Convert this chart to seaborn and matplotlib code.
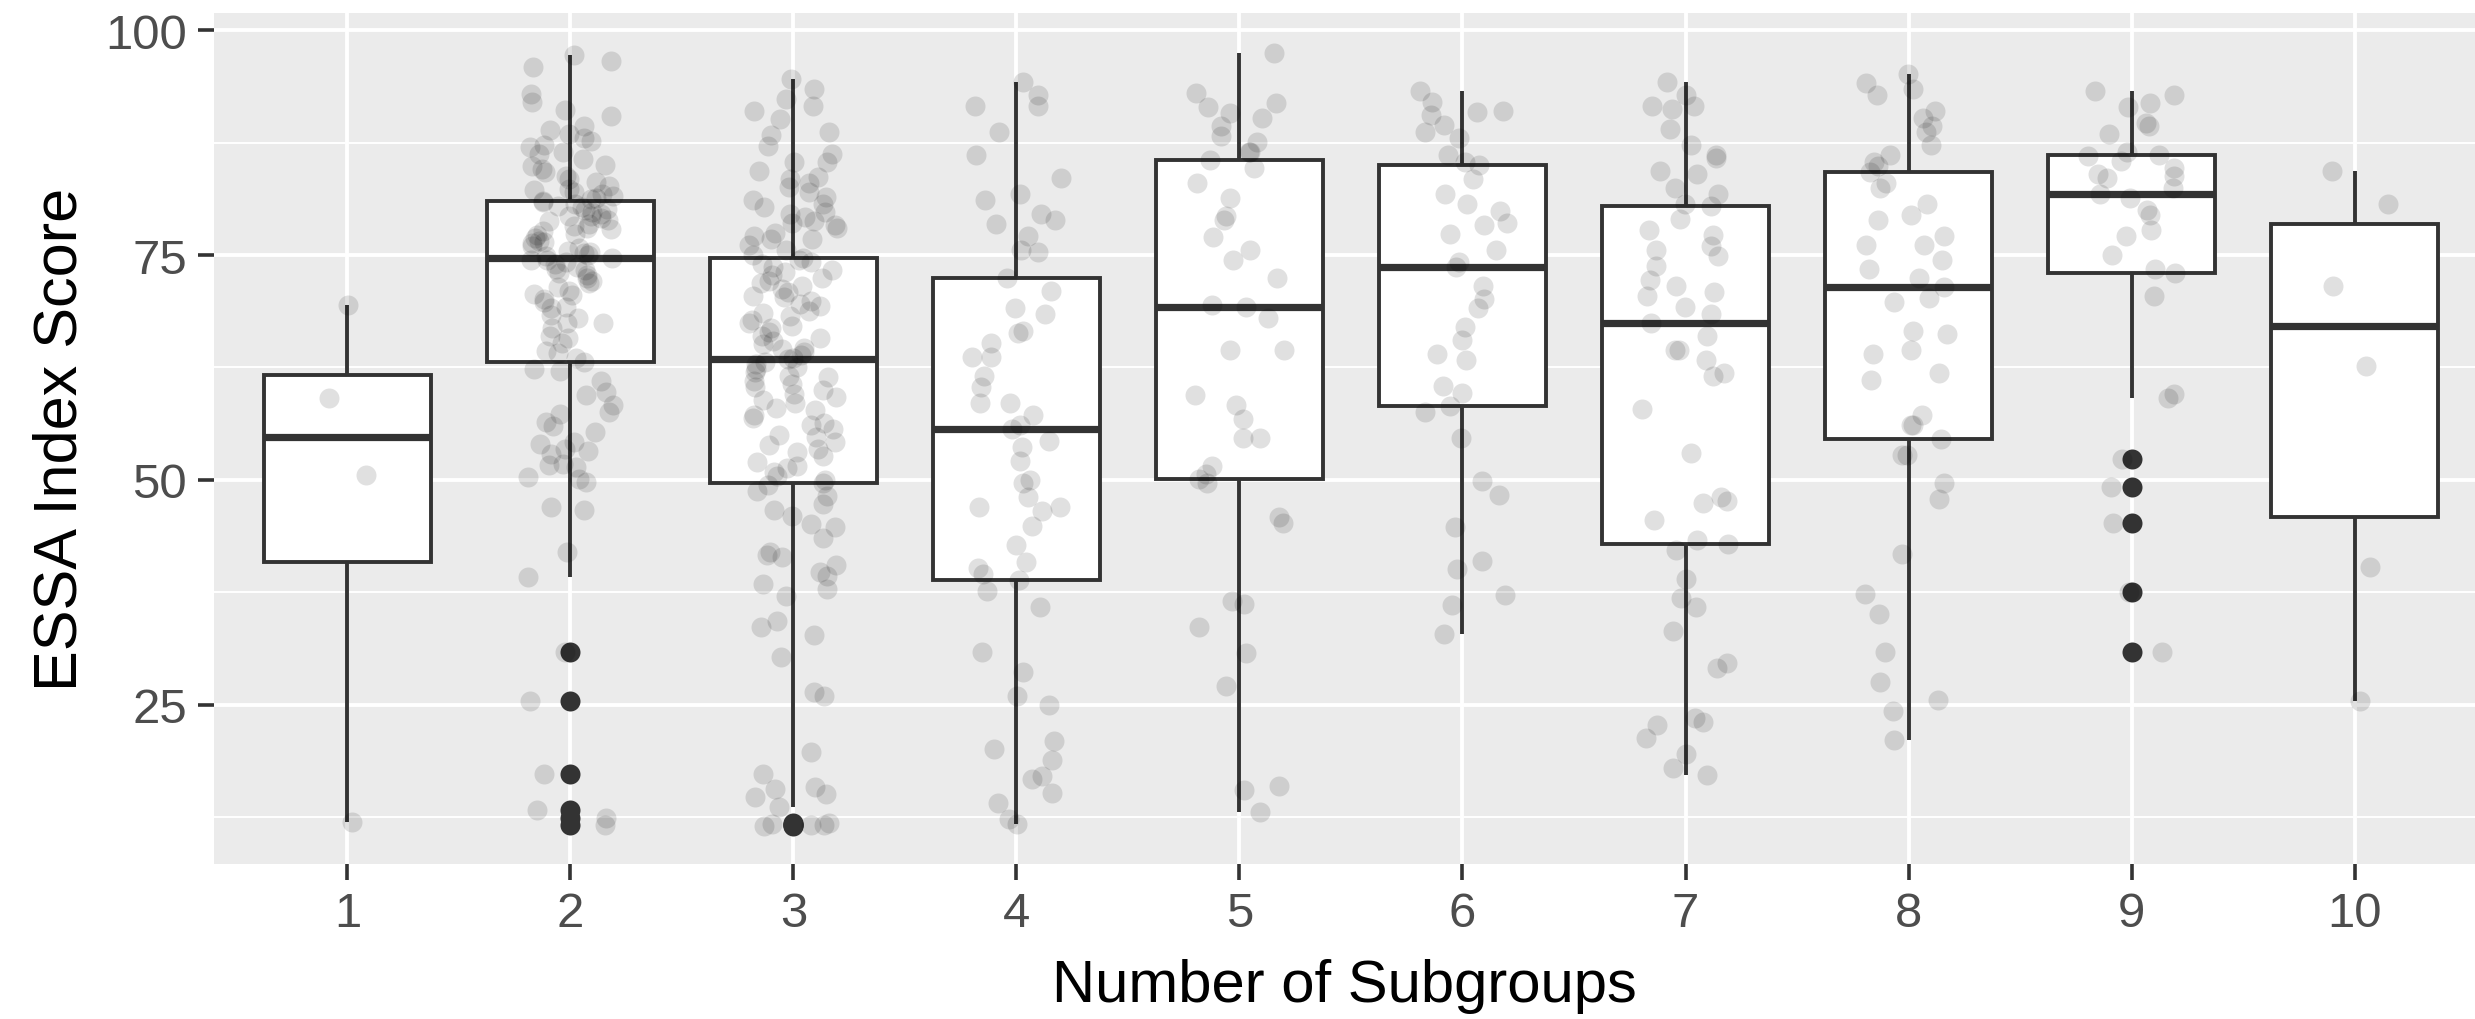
import numpy as np
import pandas as pd
import seaborn as sns
import matplotlib.pyplot as plt
from matplotlib.ticker import MultipleLocator

# Data (ESSA index score per school, grouped by number of subgroups)
subgroups = ['1', '2', '3', '4', '5', '6', '7', '8', '9', '10']

scores_1 = [11.9, 50.5, 59.1, 69.4]

scores_2 = [11.6, 12.4, 13.3, 17.3, 25.4, 30.8,
            39.2,
            42.0, 46.6, 47.0, 49.8, 50.1, 50.3, 51.4, 51.6, 51.8, 52.9, 53.2, 53.4, 54.0,
            54.2, 55.3, 56.0, 56.4, 57.3, 57.6, 58.3, 59.4, 59.8, 61.0, 62.1, 62.3,
            63.1,
            63.5, 64.1, 64.3, 65.2, 65.8, 66.0, 66.9, 67.4, 67.5, 68.0, 68.3, 69.1, 69.2,
            69.8, 70.1, 70.6, 70.7, 71.0, 71.5, 71.9, 72.1, 72.4, 72.8, 73.0, 73.3, 73.5,
            73.7, 74.0, 74.2, 74.4, 74.5,
            74.7,
            74.9, 75.0, 75.2, 75.4, 75.5, 75.8, 76.0, 76.3, 76.5, 76.6, 76.9, 77.2, 77.4,
            77.7, 77.9, 78.0, 78.2, 78.5, 78.8, 78.9, 79.1, 79.3, 79.4, 79.6, 79.8, 80.0,
            80.1, 80.3, 80.5, 80.7, 80.9,
            81.0,
            81.2, 81.4, 81.6, 81.8, 82.0, 82.2, 82.4, 82.7, 83.1, 83.5, 83.8, 84.2, 84.6,
            84.9, 85.0, 85.7, 86.3, 86.5, 87.0, 87.3, 87.7, 88.0, 88.5, 88.9, 89.4, 90.5,
            91.1, 92.0, 92.9, 95.9, 96.6,
            97.3]

scores_3 = [11.6, 11.5, 11.7, 11.6, 11.8,
            13.6,
            14.7, 15.1, 15.6, 15.8, 17.3, 19.7, 26.0, 26.4, 30.3, 32.7, 33.6, 34.3, 37.1,
            37.9, 38.4, 39.3, 39.8, 40.5, 41.4, 41.6, 42.0, 43.5, 44.7, 45.1, 46.0, 46.6,
            47.3, 48.2, 48.8, 49.4,
            49.7,
            50.0, 50.4, 50.9, 51.3, 51.5, 52.0, 52.6, 53.1, 53.4, 53.9, 54.2, 54.8, 55.0,
            55.6, 56.1, 56.3, 56.9, 57.2, 57.8, 58.0, 58.5, 58.9, 59.2, 59.6, 60.0, 60.3,
            60.7, 61.0, 61.4, 61.6, 62.0, 62.3, 62.6, 62.9, 63.1,
            63.4,
            63.6, 63.9, 64.2, 64.5, 64.7, 65.1, 65.4, 65.8, 66.0, 66.4, 66.9, 67.1, 67.5,
            67.8, 68.2, 68.6, 68.8, 69.3, 69.6, 69.9, 70.3, 70.5, 70.9, 71.2, 71.6, 71.9,
            72.1, 72.5, 72.8, 73.1, 73.3, 73.7, 74.0, 74.2, 74.5,
            74.7,
            75.0, 75.6, 76.1, 76.8, 76.8, 77.1, 77.5, 78.0, 78.4, 78.6, 78.8, 79.2, 79.6,
            79.8, 80.3, 80.7, 81.1, 81.5, 82.0, 82.6, 83.0, 83.5, 83.7, 84.3, 85.4, 85.4,
            86.2, 87.1, 88.4, 88.7, 90.1, 91.0, 91.6, 92.4, 93.5,
            94.6]

scores_4 = [11.7,
            12.3, 14.1, 15.2, 16.7, 17.0, 18.8, 20.1, 21.0, 24.9, 25.9, 28.6, 30.8, 35.8, 37.6,
            38.9,
            39.5, 40.2, 40.9, 42.8, 44.9, 46.5, 47.0, 47.0, 48.1, 49.6, 50.0, 52.1, 53.6, 54.3,
            55.7,
            56.1, 57.2, 58.6, 58.6, 60.3, 61.5, 63.7, 63.7, 65.2, 66.3, 66.6, 68.4, 69.1, 71.0,
            72.5,
            75.3, 75.6, 77.1, 78.5, 78.9, 79.6, 81.1, 81.8, 83.6, 86.1, 88.7, 91.6, 91.6, 92.8,
            94.2]

scores_5 = [13.0,
            15.5, 15.9, 27.1, 30.7, 33.6, 36.2, 36.5, 45.2, 45.9, 49.6,
            50.1,
            50.7, 51.5, 54.7, 54.7, 56.8, 58.3, 59.4, 64.4, 64.4, 68.0,
            69.2,
            69.5, 72.4, 74.5, 75.6, 77.0, 78.9, 79.3, 81.4, 83.0, 84.7,
            85.6,
            86.5, 86.5, 87.6, 88.2, 89.4, 90.2, 90.8, 91.5, 91.9, 93.0,
            97.5]

scores_6 = [32.9,
            36.1, 37.2, 40.1, 41.0, 44.8, 48.3, 49.9, 54.6, 57.5,
            58.2,
            59.7, 60.4, 63.3, 64.0, 65.5, 67.0, 69.1, 70.1, 71.6,
            73.7,
            74.2, 75.6, 77.4, 78.3, 78.6, 79.9, 80.7, 81.8, 83.5,
            85.0,
            85.4, 86.1, 88.0, 88.7, 89.5, 90.6, 90.9, 91.0, 92.0,
            93.3]

scores_7 = [17.2,
            18.0, 19.5, 21.3, 22.7, 23.1, 23.5, 29.1, 29.6, 33.2, 35.8, 36.8, 39.0, 42.2,
            42.9,
            43.3, 45.5, 47.4, 47.7, 48.1, 53.0, 57.9, 61.6, 61.9, 63.3, 64.4, 64.4, 66.0,
            67.4,
            68.4, 69.2, 70.5, 70.9, 71.6, 72.2, 73.8, 74.9, 75.6, 76.0, 77.2, 77.8, 79.0,
            80.5,
            80.7, 81.8, 82.5, 84.0, 84.3, 85.8, 86.1, 87.2, 89.0, 91.2, 91.6, 91.6, 92.8,
            94.2]

scores_8 = [21.1,
            24.3, 25.5, 27.5, 30.8, 35.1, 37.3, 41.7, 47.9, 49.6, 52.8, 52.8,
            54.5,
            56.1, 56.1, 57.2, 61.1, 61.9, 64.0, 64.4, 66.2, 66.6, 69.8, 70.2,
            71.5,
            72.4, 73.5, 74.5, 76.1, 76.1, 77.1, 78.9, 79.5, 80.7, 82.5, 83.0,
            84.2,
            84.9, 85.4, 86.1, 87.2, 88.7, 89.4, 90.2, 91.0, 92.8, 93.5, 94.1,
            95.1]

scores_9 = [30.8, 37.5, 45.2, 49.2, 52.3, 59.1, 59.5, 70.4,
            73.0,
            73.5, 75.0, 77.1, 77.8, 79.5, 80.0, 81.4,
            81.8,
            82.5, 83.6, 83.8, 84.0, 84.7, 85.5, 86.1,
            86.0,
            86.5, 88.5, 89.4, 89.7, 91.5, 91.9, 92.8,
            93.3]

scores_10 = [25.4, 40.3, 62.7, 71.6, 80.7, 84.3]

score_lists = [scores_1, scores_2, scores_3, scores_4, scores_5,
               scores_6, scores_7, scores_8, scores_9, scores_10]

df = pd.DataFrame({
    'subgroups': np.repeat(subgroups, [len(s) for s in score_lists]),
    'score': np.concatenate(score_lists),
})

# ggplot-ish grey theme
sns.set_theme(style='darkgrid', rc={
    'axes.facecolor': '#EBEBEB',
    'grid.color': 'white',
})
plt.rcParams['font.family'] = ['Liberation Sans', 'DejaVu Sans']

fig = plt.figure(figsize=(12.375, 5.1), dpi=200)
ax = fig.add_axes([0.0863, 0.152, 0.9137, 0.834])

sns.boxplot(data=df, x='subgroups', y='score', order=subgroups,
            color='white', linecolor='#333333', linewidth=1.4, width=0.75,
            showcaps=False, fliersize=7.2,
            flierprops=dict(marker='o', markerfacecolor='#333333',
                            markeredgecolor='#333333', markeredgewidth=0),
            medianprops=dict(linewidth=2.6, color='#333333'),
            ax=ax)

np.random.seed(3)
sns.stripplot(data=df, x='subgroups', y='score', order=subgroups,
              color='black', alpha=0.12, size=7.2, jitter=0.2, linewidth=0,
              ax=ax, zorder=3)

ax.set_xlim(-0.6, 9.54)
ax.set_ylim(7.27, 101.9)
ax.set_yticks([25, 50, 75, 100])
ax.yaxis.set_minor_locator(MultipleLocator(12.5))
ax.set_axisbelow(True)
ax.grid(which='major', color='white', linewidth=1.4)
ax.yaxis.grid(True, which='minor', color='white', linewidth=0.7)
ax.xaxis.grid(True, which='major', color='white', linewidth=1.4)
for s in ax.spines.values():
    s.set_visible(False)

ax.tick_params(axis='both', which='major', left=True, bottom=True,
               length=5.6, width=1.3, color='#333333',
               labelcolor='#4D4D4D', labelsize=17.7, pad=4)
ax.tick_params(axis='y', which='minor', left=False, length=0)

ax.set_xlabel('Number of Subgroups', fontsize=21.5, color='black', labelpad=8)
ax.set_ylabel('ESSA Index Score', fontsize=22, color='black', labelpad=5.5)

fig.savefig('out.png', dpi=200)
